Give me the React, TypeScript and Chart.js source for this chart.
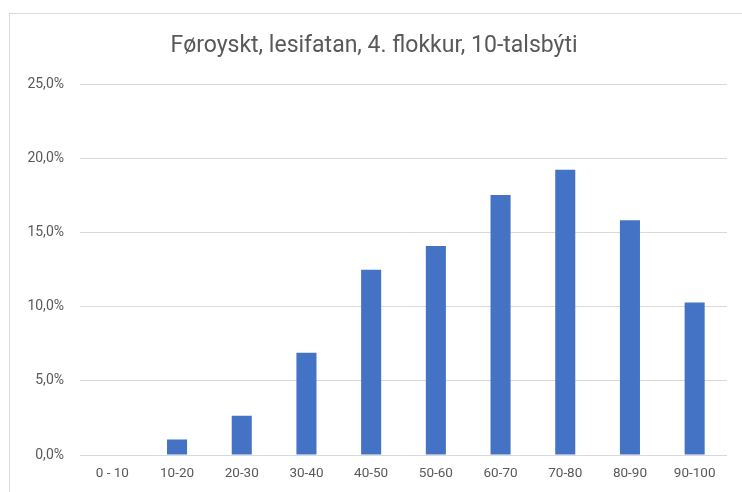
import React, { useEffect, useRef } from "react";
import { Chart, registerables } from "chart.js";

Chart.register(...registerables);

const TITLE = "Føroyskt, lesifatan, 4. flokkur, 10-talsbýti";
const categories = ["0 - 10", "10-20", "20-30", "30-40", "40-50", "50-60", "60-70", "70-80", "80-90", "90-100"];
const shares = [0, 1.05, 2.65, 6.9, 12.5, 14.1, 17.55, 19.25, 15.85, 10.3];
const yTicks = [0, 5, 10, 15, 20, 25];

const FONT = "Roboto, 'Liberation Sans', sans-serif";

export default function App() {
  const ref = useRef<HTMLCanvasElement | null>(null);

  useEffect(() => {
    if (!ref.current) return;
    const chart = new Chart(ref.current, {
      type: "bar",
      data: {
        labels: categories,
        datasets: [
          {
            data: shares,
            backgroundColor: "#4472C4",
            barPercentage: 0.62,
            categoryPercentage: 0.5,
          },
        ],
      },
      options: {
        animation: false,
        responsive: false,
        devicePixelRatio: 1,
        layout: { padding: { left: 21, right: 15, top: 0, bottom: 0 } },
        plugins: {
          legend: { display: false },
          tooltip: { enabled: false },
          title: {
            display: true,
            text: TITLE,
            color: "#595959",
            font: { family: FONT, size: 23, weight: "normal" },
            padding: { top: 32, bottom: 25 },
          },
        },
        scales: {
          x: {
            grid: { display: false, drawTicks: false },
            border: { display: false },
            ticks: {
              color: "#595959",
              font: { family: FONT, size: 13.5 },
              padding: 11,
              maxRotation: 0,
              autoSkip: false,
            },
            afterFit: (s: any) => {
              s.height = 37;
            },
          },
          y: {
            min: 0,
            max: 25,
            afterBuildTicks: (s: any) => {
              s.ticks = yTicks.map((v) => ({ value: v }));
            },
            grid: { color: "#d9d9d9", drawTicks: false, lineWidth: 1 },
            border: { display: false },
            ticks: {
              color: "#595959",
              font: { family: FONT, size: 14 },
              padding: 16,
              callback: (v: any) => Number(v).toFixed(1).replace(".", ",") + "%",
            },
            afterFit: (s: any) => {
              s.width = 59;
            },
          },
        },
      },
    });
    return () => chart.destroy();
  }, []);

  return (
    <div style={{ position: "fixed", left: 0, top: 0, width: 742, height: 492, background: "#fff" }}>
      <div
        style={{
          position: "absolute",
          left: 9,
          top: 13,
          width: 760,
          height: 500,
          border: "1px solid #d9d9d9",
          boxSizing: "border-box",
        }}
      />
      <canvas ref={ref} width={742} height={492} style={{ position: "absolute", left: 0, top: 0 }} />
    </div>
  );
}
